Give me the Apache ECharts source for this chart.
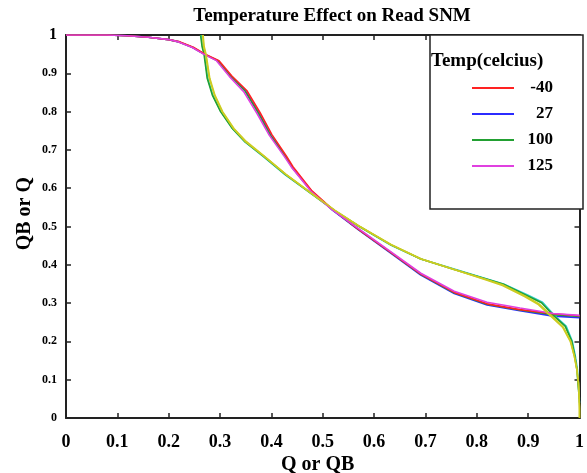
<!DOCTYPE html>
<html>
<head>
<meta charset="utf-8">
<script src="https://cdn.jsdelivr.net/npm/echarts@6/dist/echarts.min.js"></script>
<style>
  html, body { margin: 0; padding: 0; background: #fff; }
  #snmChart { width: 587px; height: 473px; }
</style>
</head>
<body>
<div id="snmChart"></div>
<script>
// legend names (temperature in celcius)
var temps = ['-40', '27', '100', '125'];

// read curve (QB vs Q), one per temperature
var readA_m40 = [[0,1],[0.08,1],[0.12,0.998],[0.16,0.994],[0.2,0.988],[0.222,0.982],[0.248,0.968],[0.271,0.95],[0.298,0.933],[0.323,0.893],[0.352,0.855],[0.378,0.797],[0.401,0.74],[0.429,0.684],[0.442,0.656],[0.479,0.593],[0.518,0.546],[0.569,0.493],[0.633,0.432],[0.691,0.376],[0.756,0.328],[0.82,0.298],[0.884,0.283],[0.949,0.272],[1,0.267]];
var readA_27  = [[0,1],[0.08,1],[0.12,0.998],[0.16,0.994],[0.2,0.988],[0.22,0.982],[0.246,0.968],[0.269,0.95],[0.296,0.933],[0.321,0.893],[0.35,0.853],[0.376,0.795],[0.399,0.738],[0.428,0.683],[0.441,0.655],[0.478,0.592],[0.517,0.545],[0.569,0.492],[0.633,0.43],[0.691,0.373],[0.756,0.325],[0.82,0.295],[0.884,0.28],[0.949,0.266],[1,0.262]];
var readA_100 = [[0,1],[0.08,1],[0.12,0.998],[0.16,0.994],[0.2,0.988],[0.22,0.982],[0.246,0.968],[0.269,0.95],[0.295,0.933],[0.32,0.893],[0.349,0.853],[0.375,0.795],[0.398,0.738],[0.427,0.683],[0.44,0.655],[0.478,0.592],[0.517,0.546],[0.569,0.493],[0.633,0.432],[0.691,0.375],[0.756,0.327],[0.82,0.297],[0.884,0.282],[0.949,0.27],[1,0.265]];
var readA_125 = [[0,1],[0.08,1],[0.12,0.998],[0.16,0.994],[0.2,0.988],[0.219,0.982],[0.245,0.968],[0.268,0.95],[0.293,0.933],[0.318,0.892],[0.346,0.852],[0.372,0.795],[0.396,0.738],[0.425,0.683],[0.439,0.655],[0.477,0.592],[0.516,0.546],[0.569,0.495],[0.633,0.434],[0.691,0.378],[0.756,0.331],[0.82,0.302],[0.884,0.287],[0.949,0.273],[1,0.268]];

// mirrored curve (Q vs QB), one per temperature
var readB_m40 = [[0.266,1],[0.268,0.97],[0.272,0.948],[0.279,0.887],[0.289,0.843],[0.304,0.8],[0.326,0.756],[0.35,0.721],[0.386,0.683],[0.428,0.636],[0.478,0.586],[0.524,0.541],[0.569,0.502],[0.633,0.452],[0.691,0.415],[0.756,0.388],[0.82,0.361],[0.852,0.347],[0.895,0.318],[0.922,0.297],[0.945,0.268],[0.968,0.238],[0.983,0.2],[0.99,0.161],[0.995,0.126],[0.998,0.091],[0.999,0.06],[1,0.03],[1,0]];
var readB_27  = [[0.263,1],[0.266,0.97],[0.27,0.948],[0.276,0.887],[0.286,0.843],[0.302,0.8],[0.324,0.756],[0.349,0.72],[0.385,0.682],[0.427,0.635],[0.478,0.585],[0.524,0.54],[0.569,0.501],[0.633,0.451],[0.691,0.415],[0.756,0.389],[0.82,0.363],[0.852,0.35],[0.899,0.321],[0.928,0.302],[0.951,0.268],[0.974,0.24],[0.986,0.2],[0.992,0.161],[0.996,0.126],[0.998,0.091],[0.999,0.06],[1,0.04]];
var readB_100 = [[0.262,1],[0.265,0.97],[0.269,0.948],[0.275,0.887],[0.285,0.843],[0.301,0.8],[0.324,0.756],[0.349,0.721],[0.385,0.683],[0.427,0.636],[0.478,0.586],[0.524,0.541],[0.569,0.502],[0.633,0.452],[0.691,0.415],[0.756,0.388],[0.82,0.362],[0.852,0.349],[0.897,0.32],[0.926,0.301],[0.949,0.268],[0.972,0.24],[0.985,0.2],[0.991,0.161],[0.995,0.126],[0.997,0.091],[0.999,0.06],[1,0.05]];
var readB_125 = [[0.267,1],[0.269,0.97],[0.273,0.948],[0.28,0.887],[0.29,0.843],[0.305,0.8],[0.327,0.756],[0.351,0.722],[0.386,0.684],[0.428,0.637],[0.478,0.587],[0.524,0.542],[0.569,0.503],[0.633,0.453],[0.691,0.416],[0.756,0.388],[0.82,0.36],[0.85,0.346],[0.893,0.317],[0.92,0.296],[0.944,0.266],[0.967,0.237],[0.982,0.2],[0.99,0.161],[0.995,0.126],[0.998,0.091],[0.999,0.06],[1,0.02],[1,0]];

var serif = "'Liberation Serif', 'Times New Roman', serif";

var snmChart = echarts.init(document.getElementById('snmChart'));

function curve(name, data, color, z) {
    return {
        name: name,
        type: 'line',
        data: data,
        showSymbol: false,
        smooth: false,
        lineStyle: { color: color, width: 1.6 },
        itemStyle: { color: color },
        z: z,
        silent: true,
        animation: false
    };
}

var axisBase = {
    type: 'value',
    min: 0,
    max: 1,
    interval: 0.1,
    splitLine: { show: false },
    axisLine: { show: true, onZero: false, lineStyle: { color: '#222', width: 2 } },
    axisTick: { show: true, inside: true, length: 5, lineStyle: { color: '#222', width: 1.5 } }
};

var option = {
    backgroundColor: '#fff',
    animation: false,
    title: {
        text: 'Temperature Effect on Read SNM',
        left: 327,
        textAlign: 'center',
        top: 2,
        textStyle: { fontFamily: serif, fontWeight: 'bold', fontSize: 19, color: '#000' }
    },
    grid: { left: 66, right: 4, top: 35, bottom: 55 },
    xAxis: [
        Object.assign({}, axisBase, {
            position: 'bottom',
            axisLabel: { margin: 15, fontFamily: serif, fontWeight: 'bold', fontSize: 18, color: '#000' }
        }),
        Object.assign({}, axisBase, {
            position: 'top',
            axisLabel: { show: false }
        })
    ],
    yAxis: [
        Object.assign({}, axisBase, {
            position: 'left',
            axisLabel: {
                margin: 9,
                fontFamily: serif, fontWeight: 'bold', fontSize: 12, color: '#000',
                formatter: function (v) { return v === 1 ? '{big|1}' : String(v); },
                rich: { big: { fontFamily: serif, fontWeight: 'bold', fontSize: 16, color: '#000' } }
            }
        }),
        Object.assign({}, axisBase, {
            position: 'right',
            axisLabel: { show: false }
        })
    ],
    legend: {
        data: temps,
        orient: 'vertical',
        left: 472,
        top: 78,
        padding: 0,
        z: 30,
        icon: 'rect',
        itemWidth: 42,
        itemHeight: 2,
        itemGap: 6,
        selectedMode: false,
        formatter: '{v|{name}}',
        textStyle: {
            fontFamily: serif, fontWeight: 'bold', fontSize: 17, color: '#000', lineHeight: 20,
            rich: { v: { width: 34, align: 'right', fontFamily: serif, fontWeight: 'bold', fontSize: 17, color: '#000' } }
        }
    },
    graphic: [
        {
            type: 'rect',
            shape: { x: 430, y: 35, width: 153, height: 174 },
            style: { fill: '#fff', stroke: '#222', lineWidth: 1.5 },
            z: 1
        },
        {
            type: 'text',
            left: 431,
            top: 52,
            style: { text: 'Temp(celcius)', font: 'bold 19px ' + serif, fill: '#000' },
            z: 2
        },
        {
            type: 'text',
            left: 281,
            top: 455,
            style: { text: 'Q or QB', font: 'bold 20px ' + serif, fill: '#000' },
            z: 2
        },
        {
            type: 'text',
            left: 15,
            top: 177,
            rotation: Math.PI / 2,
            style: { text: 'QB or Q', font: 'bold 20px ' + serif, fill: '#000' },
            z: 2
        }
    ],
    series: [
        curve('27', readA_27, '#2b2bff', 2),
        curve('100', readA_100, '#22a032', 3),
        curve('-40', readA_m40, '#ff2222', 4),
        curve('125', readA_125, '#e040e0', 5),
        curve('27 QB', readB_27, '#30cccc', 2),
        curve('100 QB', readB_100, '#22a032', 3),
        curve('-40 QB', readB_m40, '#cccc22', 4),
        curve('125 QB', readB_125, '#cccc22', 5)
    ]
};

snmChart.setOption(option);

window.addEventListener('resize', function () {
    snmChart.resize();
});
</script>
</body>
</html>
